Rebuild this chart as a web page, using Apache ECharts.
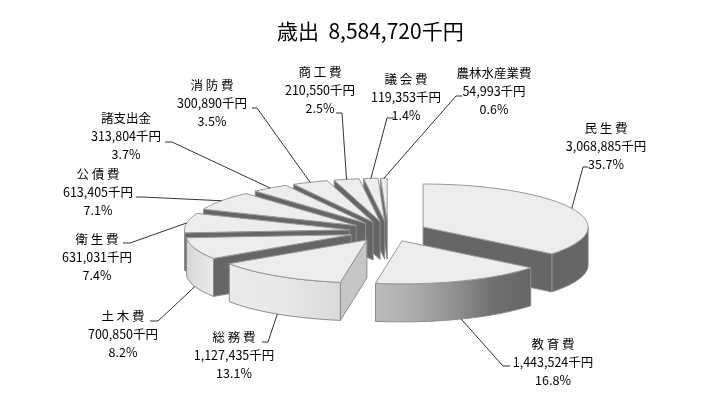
<!DOCTYPE html>
<html>
<head>
<meta charset="utf-8">
<style>html,body{margin:0;padding:0;background:#fff}#main{width:722px;height:416px}</style>
<script src="https://cdn.jsdelivr.net/npm/echarts@6/dist/echarts.min.js"></script>
</head>
<body>
<div id="main"></div>
<script>
const titleText = '歳出  8,584,720千円'
const names = ['民 生 費','教 育 費','総 務 費','土 木 費','衛 生 費','公 債 費','諸支出金','消 防 費','商 工 費','議 会 費','農林水産業費']
const amounts = [3068885,1443524,1127435,700850,631031,613405,313804,300890,210550,119353,54993]
const percents = ['35.7%','16.8%','13.1%','8.2%','7.4%','7.1%','3.7%','3.5%','2.5%','1.4%','0.6%']

// label centres and leader line bends, placed by hand like the original
const labelCentres = [[606,146],[553,362],[234,355],[123,334],[97,257],[98,192],[126,136],[212,103],[320,90],[406,97],[494,91]]
const leaderBends = [
  [[583,167],[588,167]],[[503,366],[510,366]],[[268,342],[262,342]],[[158,321],[150,321]],
  [[130,243],[123,243]],[[142,197],[136,197]],[[172,142],[165,142]],[[257,108],[252,108]],
  [[342,113],[336,113]],[[387,118],[394,118]],[[456,96],[462,96]]
]
// wall shading per slice: outer wall stops left to right, radial wall colour
const DARK = '#666666'
const outerShades = [
  [DARK,DARK],['#bdbdbd','#acacac','#929292','#707070','#666666'],['#eaeaea','#e8e8e8','#d9d9d9'],['#d6d6d6','#ececec'],
  [DARK,DARK],[DARK,DARK],[DARK,DARK],[DARK,DARK],[DARK,DARK],[DARK,DARK],[DARK,DARK]
]
const radialShades = [DARK,DARK,'#c6c6c6',DARK,DARK,DARK,DARK,DARK,DARK,DARK,DARK]

const CX = 388, CY = 231.4, RX = 165, RY = 43, DEPTH = 38, EXPLODE = 0.236
const RAD = Math.PI / 180
const total = amounts.reduce((a, b) => a + b, 0)

// clockwise from 12 o'clock
let sum = 0
const slices = amounts.map(v => {
  const start = sum / total * 360
  sum += v
  const end = sum / total * 360
  const mid = (start + end) / 2
  return {
    start, end, mid,
    ax: CX + EXPLODE * RX * Math.sin(mid * RAD),
    ay: CY - EXPLODE * RY * Math.cos(mid * RAD)
  }
})
const rimPoint = (s, deg, down) => [
  s.ax + RX * Math.sin(deg * RAD),
  s.ay - RY * Math.cos(deg * RAD) + (down || 0)
]
const arcPoints = (s, from, to, down) => {
  const pts = []
  const n = Math.max(2, Math.ceil((to - from) / 2))
  for (let k = 0; k <= n; k++) pts.push(rimPoint(s, from + (to - from) * k / n, down))
  return pts
}
const lineStyle = { stroke: '#8c8c8c', lineWidth: 1 }
const gradient = stops => new echarts.graphic.LinearGradient(0, 0, 1, 0,
  stops.map((c, i) => ({ offset: i / (stops.length - 1), color: c })))

function sliceShape(i) {
  const s = slices[i]
  const children = []
  // outer wall, only the part facing the viewer
  const from = Math.max(s.start, 90), to = Math.min(s.end, 270)
  if (to > from) {
    children.push({
      type: 'polygon',
      shape: { points: arcPoints(s, from, to, 0).concat(arcPoints(s, from, to, DEPTH).reverse()) },
      style: { fill: gradient(outerShades[i]), ...lineStyle }
    })
  }
  // radial wall
  const wallDeg = Math.sin(s.start * RAD) < -1e-6 ? s.start : (Math.sin(s.end * RAD) > 1e-6 ? s.end : null)
  if (wallDeg !== null && !(s.start < 180 && s.end > 180)) {
    const p = rimPoint(s, wallDeg, 0)
    children.push({
      type: 'polygon',
      shape: { points: [[s.ax, s.ay], p, [p[0], p[1] + DEPTH], [s.ax, s.ay + DEPTH]] },
      style: { fill: radialShades[i], ...lineStyle }
    })
  }
  // top face
  children.push({
    type: 'polygon',
    shape: { points: [[s.ax, s.ay]].concat(arcPoints(s, s.start, s.end, 0)) },
    style: { fill: '#ededed', stroke: '#999999', lineWidth: 1 }
  })
  return { type: 'group', children }
}

function labelShape(i) {
  const s = slices[i]
  const front = Math.cos(s.mid * RAD) < 0 && Math.sin(s.mid * RAD) > -0.97
  const startPt = rimPoint(s, s.mid, front ? DEPTH : 0)
  const text = names[i] + '\n' + amounts[i].toLocaleString('en-US') + '千円\n' + percents[i]
  return {
    type: 'group',
    children: [
      {
        type: 'polyline',
        shape: { points: [startPt].concat(leaderBends[i]) },
        style: { fill: 'none', stroke: '#333333', lineWidth: 1 }
      },
      {
        type: 'text',
        style: {
          text,
          x: labelCentres[i][0], y: labelCentres[i][1],
          align: 'center', verticalAlign: 'middle',
          fontFamily: '"Noto Sans CJK JP"', fontSize: 12.5, lineHeight: 18, fill: '#000'
        }
      }
    ]
  }
}

// back slices first so the front ones sit on top of their walls
const drawOrder = slices.map((s, i) => i).sort((a, b) => slices[a].ay - slices[b].ay)

const chart = echarts.init(document.getElementById('main'))
chart.setOption({
  animation: false,
  backgroundColor: '#fff',
  title: {
    text: titleText,
    left: 272,
    top: 16,
    textStyle: { fontFamily: '"Noto Sans CJK JP"', fontSize: 21, fontWeight: 'normal', color: '#000' }
  },
  series: [
    {
      type: 'custom',
      coordinateSystem: 'none',
      silent: true,
      data: drawOrder.map(i => [i]),
      renderItem: (params, api) => sliceShape(api.value(0))
    },
    {
      type: 'custom',
      coordinateSystem: 'none',
      silent: true,
      z: 5,
      data: names.map((n, i) => [i]),
      renderItem: (params, api) => labelShape(api.value(0))
    }
  ]
})
</script>
</body>
</html>
